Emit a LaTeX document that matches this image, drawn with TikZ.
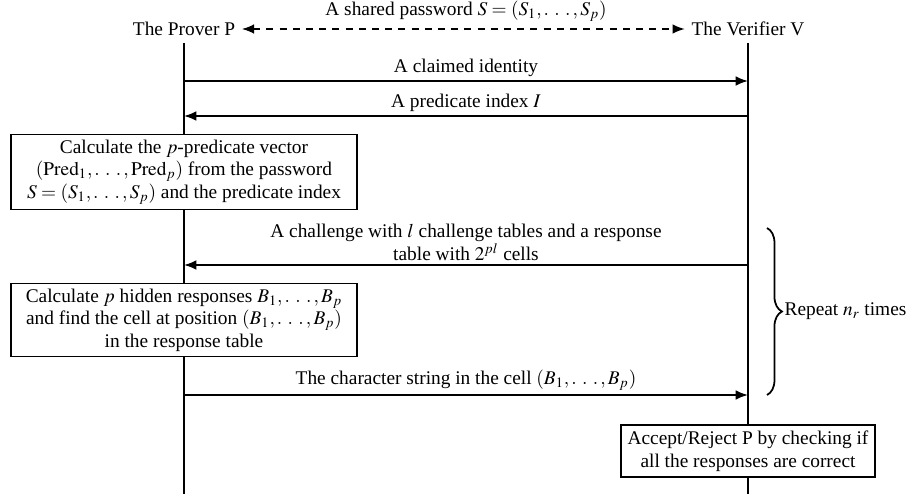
\documentclass[tikz,border=0pt]{standalone}
\usepackage{mathptmx}
\usepackage[no-math]{fontspec}
\setmainfont{Liberation Serif}
\usetikzlibrary{arrows.meta,decorations.pathreplacing}
\newcommand{\mydots}{\mathinner{.\mkern5mu.\mkern5mu.}}
\begin{document}
\begin{tikzpicture}[x=0.5683pt,y=-0.5683pt,
  line width=1pt,
  every node/.style={font=\fontsize{11}{12.8}\selectfont},
  msg/.style={-{Latex[length=7pt,width=5.5pt]}},
  actbox/.style={draw,fill=white,align=center,inner sep=2pt},
  lbl/.style={align=center,inner sep=2pt}]
\useasboundingbox (0,0) rectangle (908,494);
% actors
\node[lbl] (pw) at (466,11) {A shared password $S=(S_1,\mydots,S_p)$};
\node (P) at (184,29) {The Prover P};
\node (V) at (748,29) {The Verifier V};
\draw[dash pattern=on 4pt off 3.5pt,{Latex[length=7pt,width=5.5pt]}-{Latex[length=7pt,width=5.5pt]}] (P) -- (V);
% lifelines
\coordinate (Ptop) at (184,43); \coordinate (Pbot) at (184,494);
\coordinate (Vtop) at (748,43); \coordinate (Vbot) at (748,494);
\draw (Ptop) -- (Pbot);
\draw (Vtop) -- (Vbot);
% messages
\coordinate (m1p) at (184,81); \coordinate (m1v) at (748,81);
\draw[msg] (m1p) -- node[lbl,above] (l1) {A claimed identity} (m1v);
\coordinate (m2p) at (184,116); \coordinate (m2v) at (748,116);
\draw[msg] (m2v) -- node[lbl,above] (l2) {A predicate index $I$} (m2p);
\node[actbox,minimum width=196.6pt,minimum height=42.6pt] (b1) at (184,172)
  {Calculate the $p$-predicate vector\\ $(\mathrm{Pred}_1,\mydots,\mathrm{Pred}_p)$ from the password\\ $S=(S_1,\mydots,S_p)$ and the predicate index};
\coordinate (m3p) at (184,265); \coordinate (m3v) at (748,265);
\draw[msg] (m3v) -- node[lbl,above] (l3) {A challenge with $l$ challenge tables and a response\\ table with $2^{pl}$ cells} (m3p);
\node[actbox,minimum width=197pt,minimum height=41.5pt] (b2) at (184,320)
  {Calculate $p$ hidden responses $B_1,\mydots,B_p$\\ and find the cell at position $(B_1,\mydots,B_p)$\\ in the response table};
\coordinate (m4p) at (184,395); \coordinate (m4v) at (748,395);
\draw[msg] (m4p) -- node[lbl,above] (l4) {The character string in the cell $(B_1,\mydots,B_p)$} (m4v);
\node[actbox,minimum width=144.3pt,minimum height=29.5pt] (b3) at (748,451)
  {Accept/Reject P by checking if\\ all the responses are correct};
% repeat brace
\coordinate (brT) at (767,228); \coordinate (brB) at (767,395);
\draw[decorate,decoration={brace,amplitude=8.5pt}] (brT) -- (brB)
  node[midway,right=9pt,inner sep=0.5pt] (rep) {Repeat $n_r$ times};
\end{tikzpicture}
\end{document}
